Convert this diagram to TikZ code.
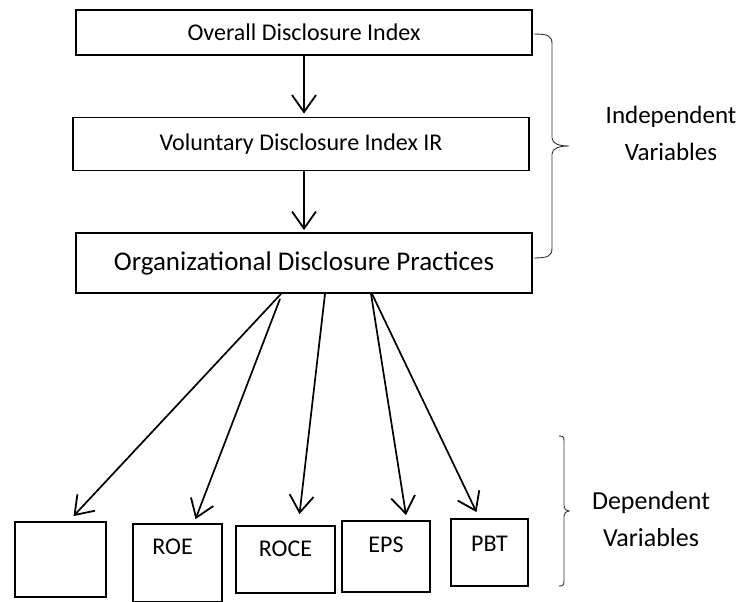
\documentclass[tikz,border=0pt]{standalone}
\usepackage{fontspec}
\setmainfont{Carlito}
\usetikzlibrary{positioning,arrows.meta}

\begin{document}
\begin{tikzpicture}[x=1pt, y=-1pt, every node/.style={font=\fontsize{24}{28}\selectfont},
  box/.style={draw, line width=1.8pt, inner sep=0pt, minimum width=456pt},
  dep/.style={draw, line width=1.8pt, inner sep=0pt, font=\fontsize{20}{24}\selectfont},
  arr/.style={-{Straight Barb[length=17pt, width=24pt, line width=1.8pt]}, line width=1.7pt},
  brc/.style={line width=0.9pt, draw=black!80}]
\useasboundingbox (0,0) rectangle (744,602);
\node[box, minimum height=45pt] (odi) at (304,32.5) {Overall Disclosure Index};
\node[box, minimum height=53pt] (vdi) at (301,144) {Voluntary Disclosure Index IR};
\node[box, minimum height=60pt, font=\fontsize{27}{32}\selectfont] (odp) at (304,263) {Organizational Disclosure Practices};
\node[dep, minimum width=91pt, minimum height=75pt] (blank) at (60.5,559.5) {};
\node[dep, minimum width=89pt, minimum height=78pt, label={[xshift=-5pt, yshift=-24pt, anchor=center]north:ROE}] (roe) at (177.5,563) {};
\node[dep, minimum width=99pt, minimum height=67pt, label={[yshift=-24pt, anchor=center]north:ROCE}] (roce) at (285.5,559.5) {};
\node[dep, minimum width=88pt, minimum height=71pt, label={[yshift=-25pt, anchor=center]north:EPS}] (eps) at (386,556.5) {};
\node[dep, minimum width=77pt, minimum height=67pt, label={[yshift=-26pt, anchor=center]north:PBT}] (pbt) at (489.5,552.5) {};
\node[align=center, font=\fontsize{25}{37}\selectfont] (indep) at (671,133) {Independent\\Variables};
\node[align=center, font=\fontsize{26}{37}\selectfont] (depv) at (651,519) {Dependent\\Variables};
\draw[arr, shorten >=3pt] (odi) -- (odi |- vdi.north); \draw[arr, shorten >=2pt] (vdi.south -| odi) -- (odi |- odp.north);
\draw[arr] ([xshift=-23pt]odp.south) -- ([xshift=13pt, yshift=5pt]blank.north);
\draw[arr] ([xshift=-24pt, yshift=-5pt]odp.south) -- ([xshift=18pt, yshift=4pt]roe.north);
\draw[arr] ([xshift=21pt]odp.south) -- ([xshift=14pt, yshift=11pt]roce.north);
\draw[arr] ([xshift=67pt]odp.south) -- ([xshift=20pt, yshift=5pt]eps.north);
\draw[arr] ([xshift=68pt]odp.south) -- ([xshift=-13pt, yshift=6pt]pbt.north);
% braces
\draw[brc] (534,34) .. controls (548,34) and (552,36) .. (552,44) -- (552,138) .. controls (552,144) and (560,146) .. (569,146) .. controls (560,146) and (552,148) .. (552,154) -- (552,248) .. controls (552,256) and (548,258) .. (534,258);
\draw[brc] (559,436) .. controls (563,436) and (564,437) .. (564,441) -- (564,506) .. controls (564,509) and (566,511) .. (569,511) .. controls (566,511) and (564,513) .. (564,516) -- (564,581) .. controls (564,585) and (563,586) .. (559,586);
\end{tikzpicture}
\end{document}
